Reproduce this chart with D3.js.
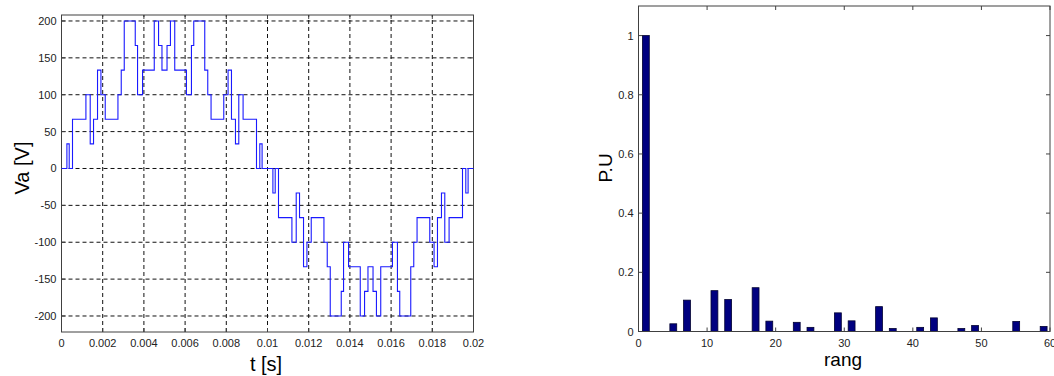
<!DOCTYPE html>
<html><head><meta charset="utf-8">
<script src="https://cdn.jsdelivr.net/npm/d3@7"></script>
<style>
html,body{margin:0;padding:0;background:#fff;}
svg{display:block;}
text{font-family:"Liberation Sans",Arial,sans-serif;}
</style></head>
<body>
<svg id="c" width="1054" height="376"></svg>
<script>
// ---- time-domain waveform (switching instants [s] and voltage level after each instant [V]) ----
const switchTimes = [0, 0.000262, 0.000374, 0.000534, 0.001185, 0.001394, 0.001555, 0.001749, 0.001914, 0.002123,
  0.002740, 0.002900, 0.003046, 0.003580, 0.003692, 0.003935, 0.004503, 0.004712, 0.004877, 0.005123,
  0.005288, 0.005497, 0.006065, 0.006308, 0.006420, 0.006954, 0.007100, 0.007260, 0.007877, 0.008086,
  0.008251, 0.008445, 0.008606, 0.008815, 0.009466, 0.009626, 0.009738,
  0.010000, 0.010262, 0.010374, 0.010534, 0.011185, 0.011394, 0.011555, 0.011749, 0.011914, 0.012123,
  0.012740, 0.012900, 0.013046, 0.013580, 0.013692, 0.013935, 0.014503, 0.014712, 0.014877, 0.015123,
  0.015288, 0.015497, 0.016065, 0.016308, 0.016420, 0.016954, 0.017100, 0.017260, 0.017877, 0.018086,
  0.018251, 0.018445, 0.018606, 0.018815, 0.019466, 0.019626, 0.019738, 0.020000];
const voltageLevels = [0, 33.33, 0, 66.67, 100, 33.33, 66.67, 133.33, 100, 66.67,
  100, 133.33, 200, 166.67, 100, 133.33, 200, 166.67, 133.33, 166.67,
  200, 133.33, 100, 166.67, 200, 133.33, 100, 66.67, 100, 133.33,
  66.67, 33.33, 100, 66.67, 0, 33.33, 0,
  0, -33.33, 0, -66.67, -100, -33.33, -66.67, -133.33, -100, -66.67,
  -100, -133.33, -200, -166.67, -100, -133.33, -200, -166.67, -133.33, -166.67,
  -200, -133.33, -100, -166.67, -200, -133.33, -100, -66.67, -100, -133.33,
  -66.67, -33.33, -100, -66.67, 0, -33.33, 0, 0];
const timeTicks = [0, 0.002, 0.004, 0.006, 0.008, 0.01, 0.012, 0.014, 0.016, 0.018, 0.02];
const voltTicks = [-200, -150, -100, -50, 0, 50, 100, 150, 200];

// ---- harmonic spectrum ----
const harmonicRank = [1, 5, 7, 11, 13, 17, 19, 23, 25, 29, 31, 35, 37, 41, 43, 47, 49, 55, 59];
const harmonicPU   = [1.0, 0.026, 0.106, 0.138, 0.108, 0.148, 0.035, 0.031, 0.014, 0.063, 0.036, 0.084, 0.010, 0.014, 0.046, 0.010, 0.020, 0.034, 0.017];
const rankTicks = [0, 10, 20, 30, 40, 50, 60];
const puTicks = [0, 0.2, 0.4, 0.6, 0.8, 1];

const svg = d3.select("#c");
const axisCol = "#404040", txtCol = "#222";

function frame(g, x, y, xt, yt, xfmt, yfmt, grid) {
  const [x0, x1] = x.range(), [y0, y1] = y.range();
  const tl = 4;
  if (grid) {
    g.append("g").selectAll("line").data(xt.slice(1, -1)).join("line")
      .attr("x1", d => x(d)).attr("x2", d => x(d)).attr("y1", y0).attr("y2", y1)
      .attr("stroke", "#111").attr("stroke-width", 1).attr("stroke-dasharray", "4,3");
    g.append("g").selectAll("line").data(yt).join("line")
      .attr("x1", x0).attr("x2", x1).attr("y1", d => y(d)).attr("y2", d => y(d))
      .attr("stroke", "#111").attr("stroke-width", 1).attr("stroke-dasharray", "4,3");
  }
  // inward ticks on all four sides
  const tk = g.append("g").attr("stroke", axisCol).attr("stroke-width", 1);
  xt.forEach(d => {
    tk.append("line").attr("x1", x(d)).attr("x2", x(d)).attr("y1", y0).attr("y2", y0 - tl);
    tk.append("line").attr("x1", x(d)).attr("x2", x(d)).attr("y1", y1).attr("y2", y1 + tl);
  });
  yt.forEach(d => {
    tk.append("line").attr("x1", x0).attr("x2", x0 + tl).attr("y1", y(d)).attr("y2", y(d));
    tk.append("line").attr("x1", x1).attr("x2", x1 - tl).attr("y1", y(d)).attr("y2", y(d));
  });
  g.append("rect").attr("x", x0).attr("y", y1).attr("width", x1 - x0).attr("height", y0 - y1)
    .attr("fill", "none").attr("stroke", axisCol).attr("stroke-width", 1);
  g.append("g").selectAll("text").data(xt).join("text")
    .attr("x", d => x(d)).attr("y", y0 + 15).attr("text-anchor", "middle")
    .attr("font-size", 11).attr("fill", txtCol).text(xfmt);
  g.append("g").selectAll("text").data(yt).join("text")
    .attr("x", x0 - 5).attr("y", d => y(d) + 4).attr("text-anchor", "end")
    .attr("font-size", 11).attr("fill", txtCol).text(yfmt);
}

// ---------- left chart ----------
const xL = d3.scaleLinear().domain([0, 0.02]).range([61.5, 473.5]);
const yL = d3.scaleLinear().domain([-221.7, 208.1]).range([332, 15]);
const gL = svg.append("g");
frame(gL, xL, yL, timeTicks, voltTicks, d => String(d), d => String(d), true);
const pts = switchTimes.map((t, i) => [t, voltageLevels[i]]);
gL.append("path").datum(pts)
  .attr("d", d3.line().x(d => xL(d[0])).y(d => yL(d[1])).curve(d3.curveStepAfter))
  .attr("fill", "none").attr("stroke", "#1a1aff").attr("stroke-width", 1.1);
gL.append("text").attr("x", 266).attr("y", 371).attr("text-anchor", "middle")
  .attr("font-size", 20).attr("fill", "#000").text("t [s]");
gL.append("text").attr("transform", "translate(29,168) rotate(-90)").attr("text-anchor", "middle")
  .attr("font-size", 20).attr("fill", "#000").text("Va [V]");

// ---------- right chart ----------
const xR = d3.scaleLinear().domain([0, 60]).range([638.5, 1050]);
const yR = d3.scaleLinear().domain([0, 1.1]).range([331.5, 6]);
const gR = svg.append("g");
const bw = xR(1) - xR(0);
gR.append("g").selectAll("rect").data(harmonicRank.map((r, i) => [r, harmonicPU[i]])).join("rect")
  .attr("x", d => xR(d[0]) - bw / 2 + 0.5).attr("width", bw)
  .attr("y", d => yR(d[1])).attr("height", d => yR(0) - yR(d[1]))
  .attr("fill", "#000080").attr("stroke", "#000030").attr("stroke-width", 0.8);
frame(gR, xR, yR, rankTicks, puTicks, d => String(d), d => String(d), false);
gR.append("text").attr("x", 843).attr("y", 366).attr("text-anchor", "middle")
  .attr("font-size", 19).attr("fill", "#000").text("rang");
gR.append("text").attr("transform", "translate(612,168) rotate(-90)").attr("text-anchor", "middle")
  .attr("font-size", 19).attr("fill", "#000").text("P.U");
</script>
</body></html>
